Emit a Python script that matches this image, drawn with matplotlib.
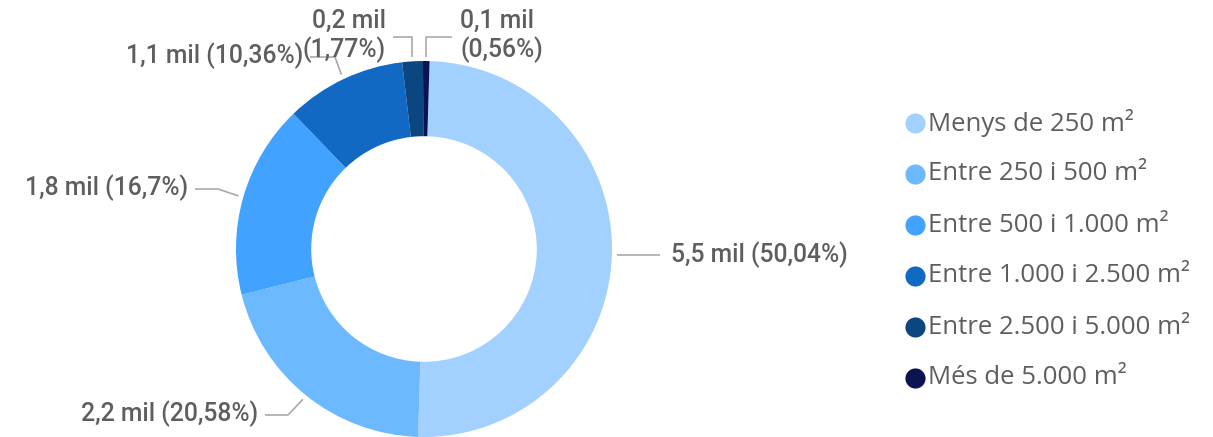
import numpy as np
import matplotlib
matplotlib.use("Agg")
from matplotlib import pyplot as plt

# Data
categories = ["Menys de 250 m²", "Entre 250 i 500 m²", "Entre 500 i 1.000 m²",
              "Entre 1.000 i 2.500 m²", "Entre 2.500 i 5.000 m²", "Més de 5.000 m²"]
shares = [50.04, 20.58, 16.70, 10.36, 1.77, 0.56]
labels = ["5,5 mil (50,04%)", "2,2 mil (20,58%)", "1,8 mil (16,7%)",
          "1,1 mil (10,36%)", "0,2 mil\n(1,77%)", "0,1 mil\n(0,56%)"]
colors = ["#A3D1FF", "#6CB9FF", "#41A3FF", "#1169C4", "#0C4680", "#0B1450"]

TEXT = "#605E5C"
LINE = "#AAAAAA"

fig = plt.figure(figsize=(12.13, 4.37), dpi=100)
ax = fig.add_axes([0, 0, 1, 1])

# pixel-like coords, y pointing down
cx, cy, R = 424, 249, 188
wedges, _ = ax.pie(shares, colors=colors, center=(cx, cy), radius=R,
                   startangle=-88.3, counterclock=True,
                   wedgeprops=dict(width=R * 0.4, linewidth=0))
ax.set_xlim(0, 1213)
ax.set_ylim(437, 0)
ax.set_aspect("equal")
ax.axis("off")

# label layout: (kind, elbow, end x, text x, text y, ha)
layout = [
    ("h", None, 660, 671, 257, "left"),
    ("d", (288, 415), 265, 258, 414, "right"),
    ("d", (218, 189), 195, 188, 188, "right"),
    ("d", (335, 57), 310, 303, 56, "right"),
    ("v", 37, 393, 386, 36, "right"),
    ("v", 37, 452, 460, 36, "left"),
]

for w, lab, (kind, elbow, xend, tx, ty, ha) in zip(wedges, labels, layout):
    mid = np.deg2rad((w.theta1 + w.theta2) / 2)
    r0 = R + 5
    x0 = cx + r0 * np.cos(mid)
    y0 = cy + r0 * np.sin(mid)
    if kind == "h":
        xs, ys = [x0, xend], [y0, y0]
    elif kind == "d":
        xs, ys = [x0, elbow[0], xend], [y0, elbow[1], elbow[1]]
    else:
        y0 = cy - R - 4
        xs, ys = [x0, x0, xend], [y0, elbow, elbow]
    ax.plot(xs, ys, color=LINE, lw=1.2, solid_capstyle="butt")
    ty_ = ty if kind != "h" else y0
    ax.text(tx, ty_, lab, ha=ha, va="center", color=TEXT, fontsize=17.8,
            family="Roboto", fontweight="medium", linespacing=1.15,
            multialignment=ha)

# legend
ly0, dy = 123, 51
for i, (cat, col) in enumerate(zip(categories, colors)):
    y = ly0 + i * dy
    ax.plot([915], [y], marker="o", markersize=14.5, color=col, markeredgewidth=0)
    ax.text(928, y, cat, ha="left", va="center", color=TEXT, fontsize=18.5,
            family="Open Sans")

fig.savefig("out.png", dpi=100)
